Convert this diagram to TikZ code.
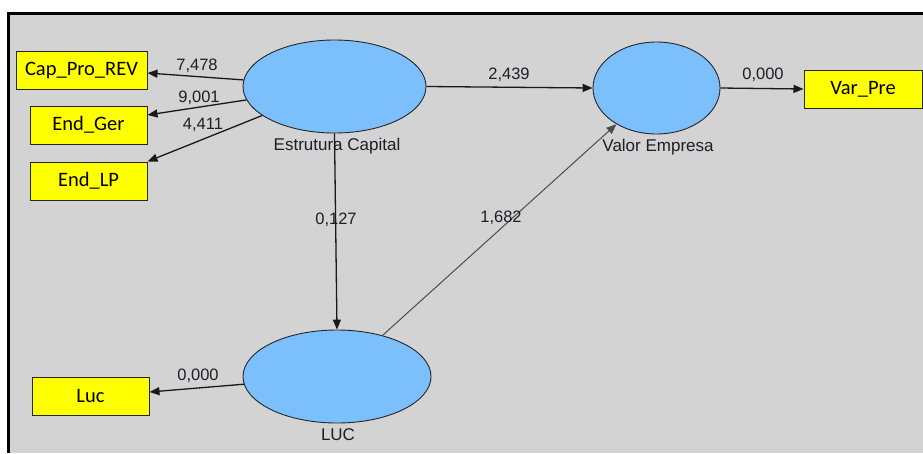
\documentclass[tikz,border=0pt]{standalone}
\usepackage{fontspec}
\setmainfont{Liberation Sans}
\newfontfamily\boxfont{Carlito}
\usetikzlibrary{shapes.geometric,arrows.meta,calc}
\definecolor{canvas}{HTML}{D3D3D3}
\definecolor{latentfill}{HTML}{7BBFFC}
\definecolor{indfill}{HTML}{FFFF00}
\definecolor{inktext}{HTML}{1E1E2A}
\tikzset{
  latent/.style={ellipse, draw=black!85, line width=0.9pt, fill=latentfill,
    minimum width=#1, inner sep=0pt},
  indicator/.style={rectangle, draw=black!85, line width=1pt, fill=indfill,
    inner sep=0pt, font=\boxfont\fontsize{20.5}{21}\selectfont},
  caption/.style={font=\fontsize{17}{18}\selectfont, text=inktext, inner sep=0pt},
  weight/.style={font=\fontsize{16.5}{17}\selectfont, text=inktext, inner sep=0pt},
  path/.style={draw=black!90, line width=1.3pt,
    -{Triangle[length=10pt,width=8pt]}},
  thinpath/.style={draw=black!70, line width=1pt,
    -{Triangle[length=10pt,width=8pt]}},
}
\begin{document}
\begin{tikzpicture}[x=1pt,y=-1pt]
  \useasboundingbox (0,0) rectangle (923,453);
  % canvas and its frame (top and left edges)
  \fill[white] (0,0) rectangle (923,453);
  \fill[canvas] (8,13) rectangle (923,453);
  \draw[black, line width=3pt] (8.5,453) -- (8.5,13.5) -- (923,13.5);

  % latent variables
  \node[latent=183pt, minimum height=93pt] (est) at (334.5,86.5) {};
  \node[latent=127pt, minimum height=92pt] (val) at (656.5,88) {};
  \node[latent=188pt, minimum height=93pt] (luc) at (337,376.5) {};

  \node[caption] (estlab) at (337,146) {Estrutura Capital};
  \node[caption] (vallab) at (658,147) {Valor Empresa};
  \node[caption] (luclab) at (338,435) {LUC};

  % indicators
  \node[indicator, minimum width=131pt, minimum height=38pt] (cap) at (81.5,70) {Cap\_Pro\_REV};
  \node[indicator, minimum width=117pt, minimum height=38pt] (ger) at (88.5,125) {End\_Ger};
  \node[indicator, minimum width=117pt, minimum height=38pt] (lp) at (88.5,181) {End\_LP};
  \node[indicator, minimum width=118pt, minimum height=38pt] (var) at (863,89) {Var\_Pre};
  \node[indicator, minimum width=117pt, minimum height=38pt] (lucb) at (90.5,396) {Luc};

  % connectors
  \draw[path] (est) -- ($(cap.east)+(0,3)$);
  \draw[path] (est) -- ($(ger.east)+(0,-10)$);
  \draw[path] (est) -- (lp.north east);
  \draw[path] (est.south) -- (luc.north);
  \draw[path] (est.east) -- (val.west);
  \draw[path] (val.east) -- (var.west);
  \draw[thinpath] (luc) -- (val);
  \draw[path] (luc) -- ($(lucb.east)+(0,-4)$);

  % path weights
  \node[weight] (w1) at (197,66) {7,478};
  \node[weight] (w2) at (199,98) {9,001};
  \node[weight] (w3) at (203,125) {4,411};
  \node[weight] (w4) at (336,220) {0,127};
  \node[weight] (w5) at (509,75) {2,439};
  \node[weight] (w6) at (763,75) {0,000};
  \node[weight] (w7) at (501,218) {1,682};
  \node[weight] (w8) at (198,376) {0,000};
\end{tikzpicture}
\end{document}
